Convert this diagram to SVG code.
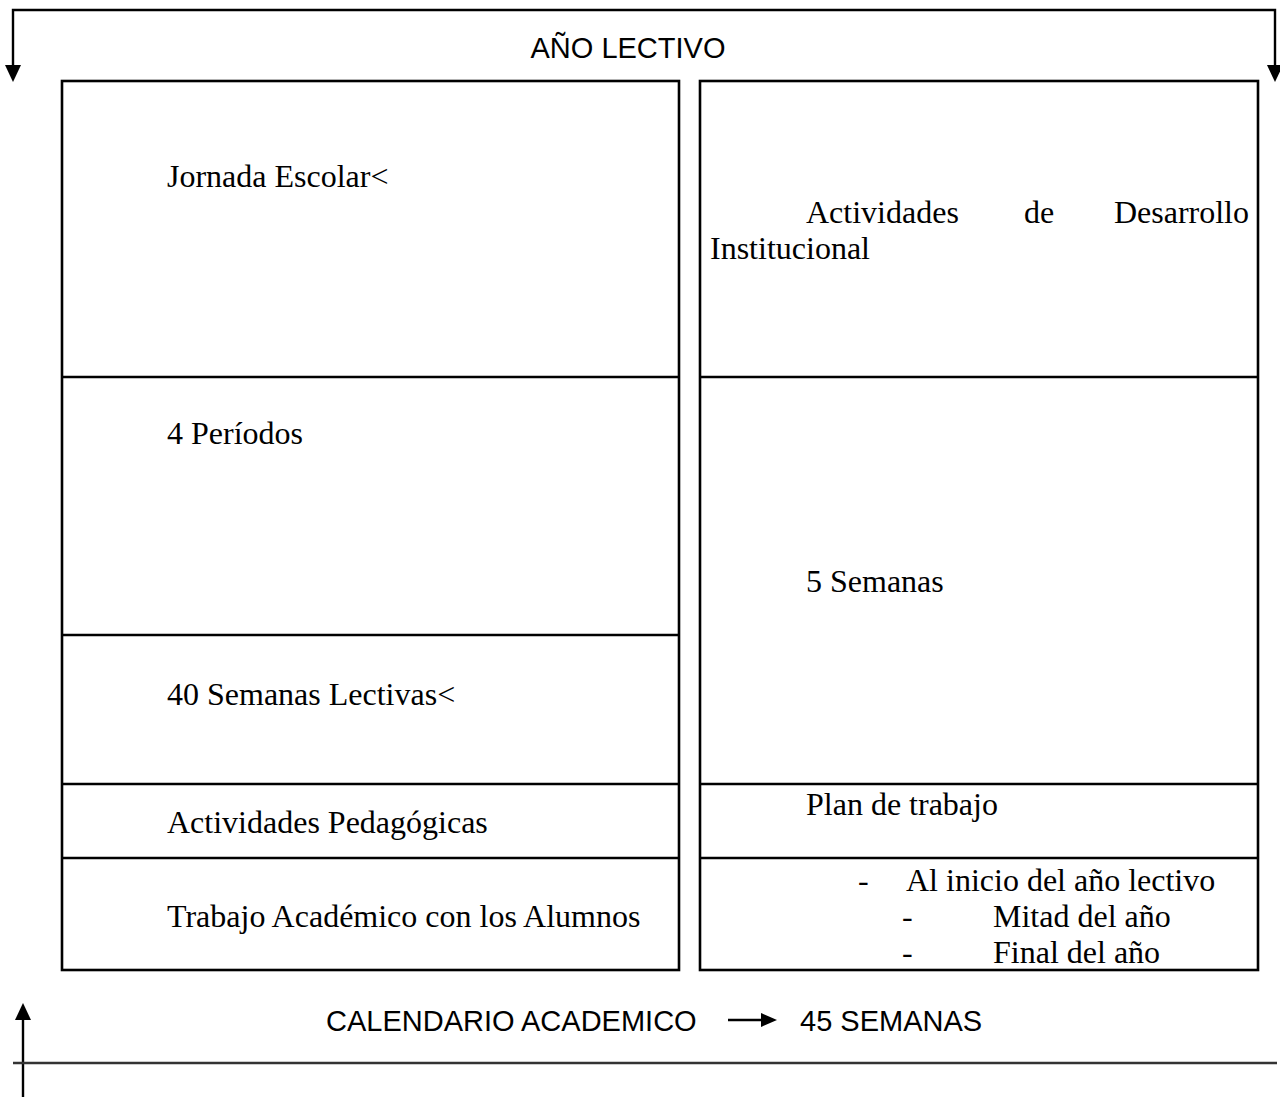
<svg xmlns="http://www.w3.org/2000/svg" width="1280" height="1097" viewBox="0 0 1280 1097">
<style>
.box{fill:#fff;stroke:#000;stroke-width:2.6}
.div{stroke:#000;stroke-width:2.6}
.ser{font-family:"Liberation Serif","Times New Roman",serif;font-size:32px;fill:#000}
.san{font-family:"Liberation Sans",Arial,sans-serif;font-size:29px;fill:#000}
.ln{fill:none;stroke:#000;stroke-width:2.4}
.ah{fill:#000}
</style>
<rect width="1280" height="1097" fill="#fff"/>
<g id="connectors">
<polyline class="ln" points="13,67 13,10 1275,10 1275,67"/>
<polygon class="ah" points="5,65 21,65 13,82"/>
<polygon class="ah" points="1267,65 1283,65 1275,82"/>
<line class="ln" x1="23" y1="1097" x2="23" y2="1018"/>
<polygon class="ah" points="15,1020 31,1020 23,1003"/>
<line x1="13" y1="1063" x2="1277" y2="1063" stroke="#333" stroke-width="2.4"/>
<line class="ln" x1="728" y1="1020" x2="764" y2="1020"/>
<polygon class="ah" points="761,1013 777,1020 761,1027"/>
</g>
<g id="title">
<text class="san" x="628" y="58" text-anchor="middle">AÑO LECTIVO</text>
</g>
<g id="left-column">
<rect class="box" x="62" y="81" width="617" height="889"/>
<line class="div" x1="62" y1="377" x2="679" y2="377"/>
<line class="div" x1="62" y1="635" x2="679" y2="635"/>
<line class="div" x1="62" y1="784" x2="679" y2="784"/>
<line class="div" x1="62" y1="858" x2="679" y2="858"/>
<g id="jornada"><text class="ser" x="167" y="187">Jornada Escolar&lt;</text></g>
<g id="periodos"><text class="ser" x="167" y="444">4 Períodos</text></g>
<g id="semanas40"><text class="ser" x="167" y="705">40 Semanas Lectivas&lt;</text></g>
<g id="pedagogicas"><text class="ser" x="167" y="833">Actividades Pedagógicas</text></g>
<g id="trabajo"><text class="ser" x="167" y="927">Trabajo Académico con los Alumnos</text></g>
</g>
<g id="right-column">
<rect class="box" x="700" y="81" width="558" height="889"/>
<line class="div" x1="700" y1="377" x2="1258" y2="377"/>
<line class="div" x1="700" y1="784" x2="1258" y2="784"/>
<line class="div" x1="700" y1="858" x2="1258" y2="858"/>
<g id="desarrollo">
<text class="ser" x="806" y="223">Actividades</text>
<text class="ser" x="1024" y="223">de</text>
<text class="ser" x="1249" y="223" text-anchor="end">Desarrollo</text>
<text class="ser" x="710" y="259">Institucional</text>
</g>
<g id="semanas5"><text class="ser" x="806" y="592">5 Semanas</text></g>
<g id="plan"><text class="ser" x="806" y="815">Plan de trabajo</text></g>
<g id="momentos">
<text class="ser" x="858" y="891">-</text>
<text class="ser" x="906" y="891">Al inicio del año lectivo</text>
<text class="ser" x="902" y="927">-</text>
<text class="ser" x="993" y="927">Mitad del año</text>
<text class="ser" x="902" y="963">-</text>
<text class="ser" x="993" y="963">Final del año</text>
</g>
</g>
<g id="footer">
<text class="san" x="326" y="1031">CALENDARIO ACADEMICO</text>
<text class="san" x="800" y="1031">45 SEMANAS</text>
</g>
</svg>
